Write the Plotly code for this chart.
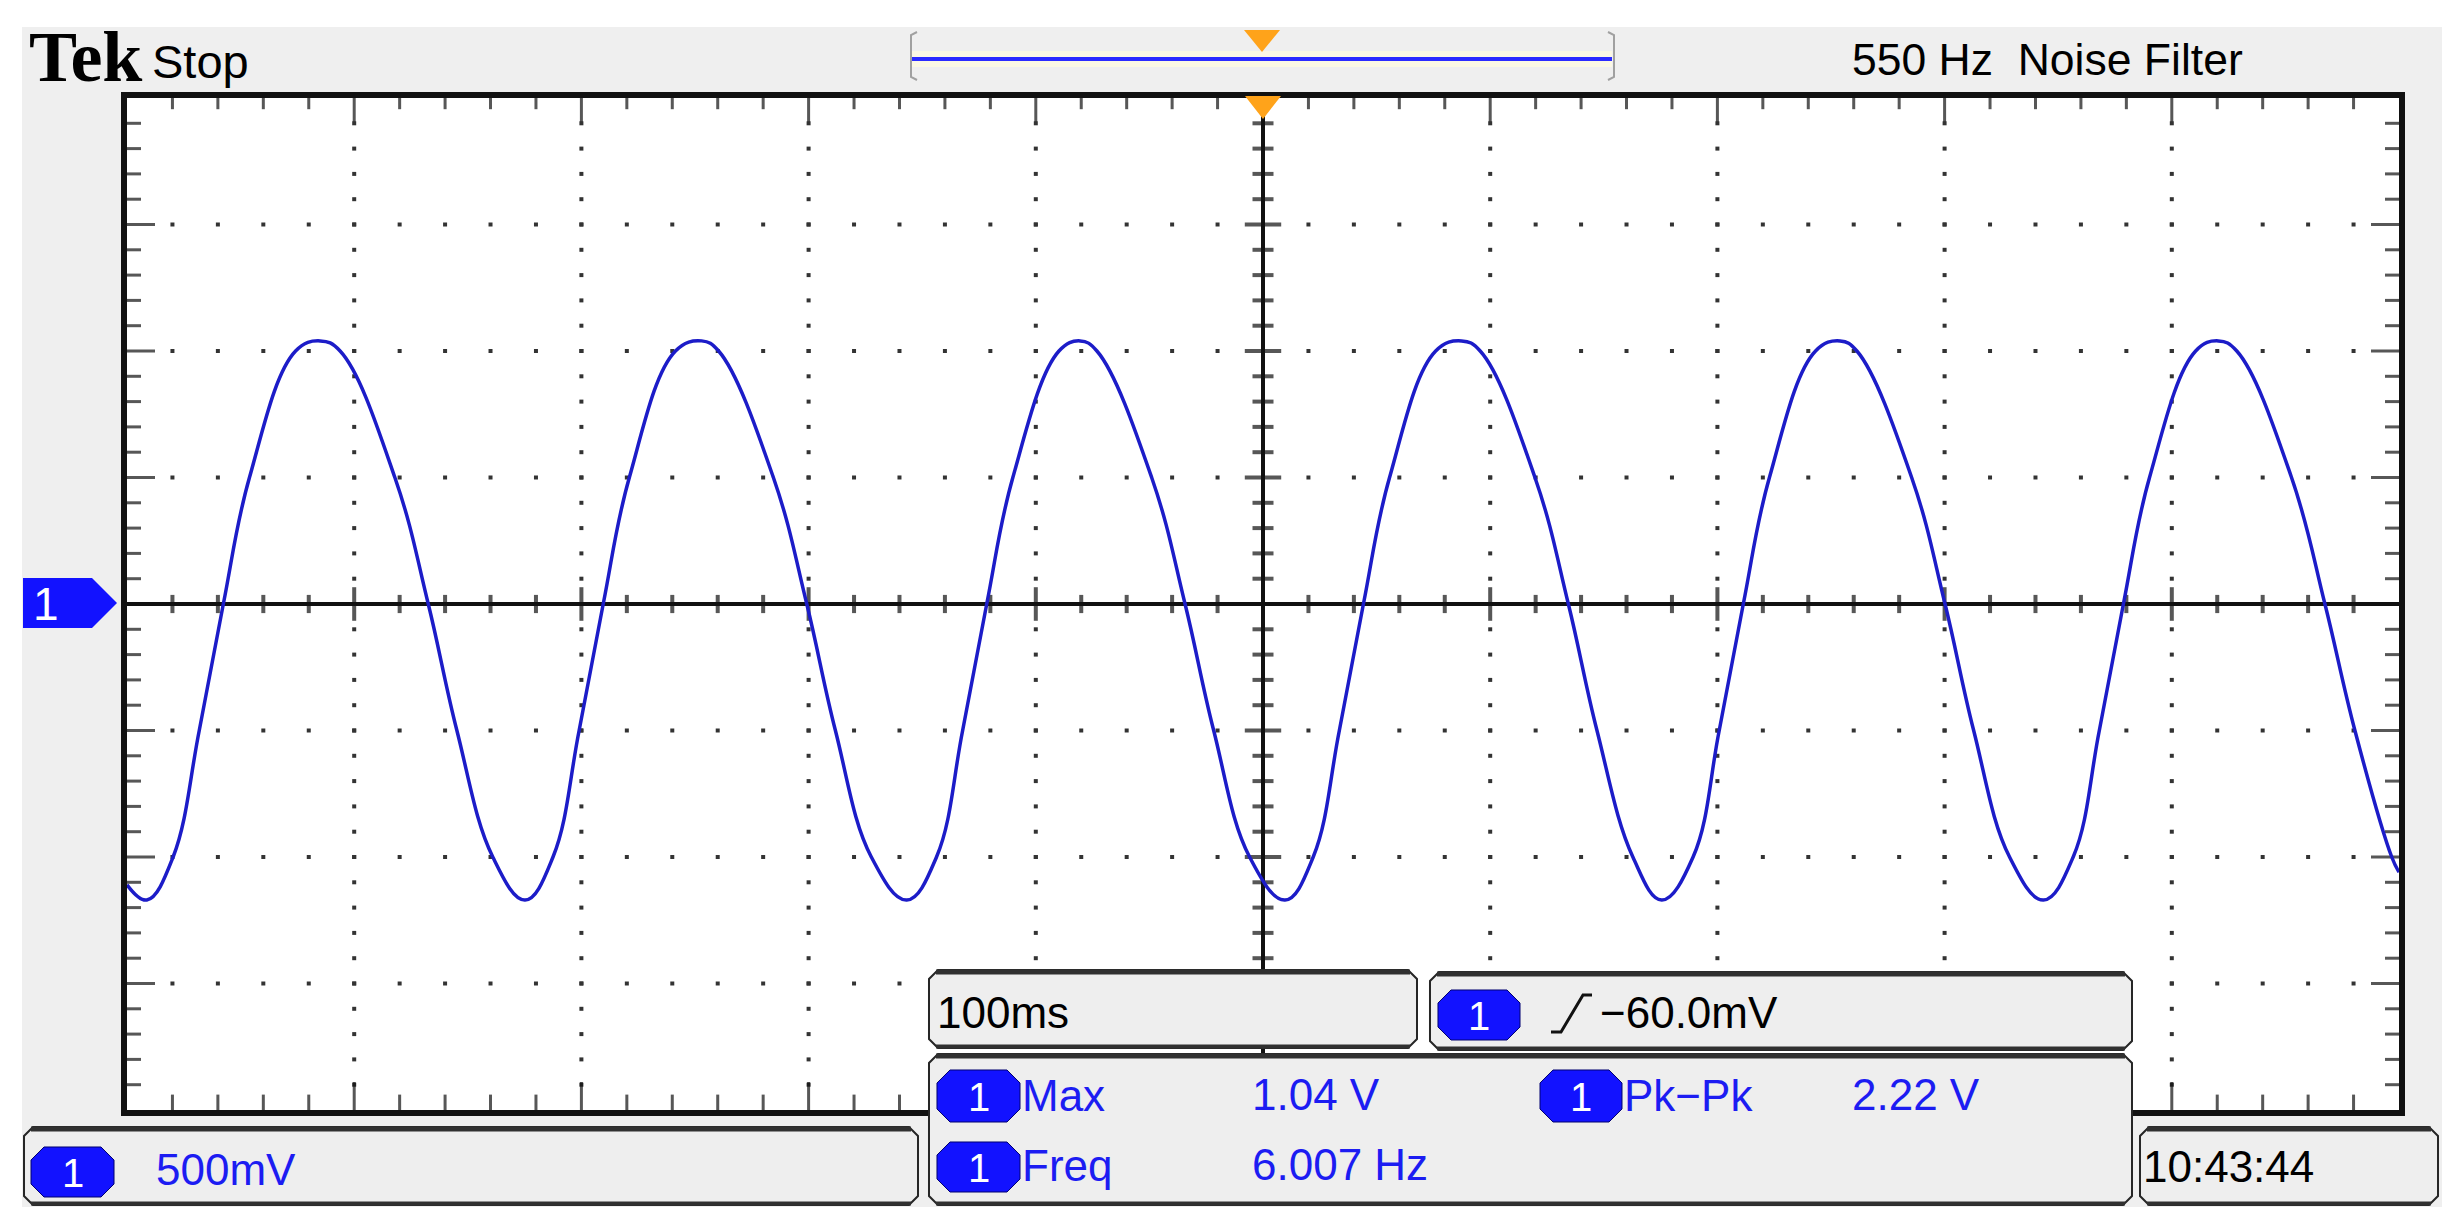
import numpy as np
import plotly.graph_objects as go

# ---------------- data read from the oscilloscope screen ----------------
# time relative to trigger (ms), 100 ms/div ; channel 1 voltage (V), 500 mV/div
time_ms = [-500.0, -491.3,
           -479.7, -468.2, -457.6, -446.1, -425.8, -415.0, -406.2, -382.1, -367.4, -354.8, -339.0, -324.8,
           -312.5, -301.0, -290.4, -278.9, -258.6, -247.1, -239.6, -215.5, -200.8, -188.2, -172.4, -156.8,
           -143.7, -132.2, -121.6, -110.1, -89.8, -80.5, -73.1, -49.0, -34.3, -21.7, -5.9, 9.7,
           22.1, 33.6, 44.2, 55.7, 76.0, 87.4, 95.6, 119.7, 134.4, 147.0, 162.8, 175.5,
           189.3, 200.8, 211.4, 222.9, 243.2, 254.0, 261.4, 285.5, 300.2, 312.8, 328.6, 343.5,
           356.6, 368.1, 378.7, 390.2, 410.5, 420.5, 428.6, 452.7, 467.4, 480.6, 496.8, 500.0]
volts = [-1.11, -1.17,
         -1.0, -0.5, 0.0, 0.5, 1.0, 1.04, 1.0, 0.5, 0.0, -0.5, -1.0, -1.17,
         -1.0, -0.5, 0.0, 0.5, 1.0, 1.04, 1.0, 0.5, 0.0, -0.5, -1.0, -1.17,
         -1.0, -0.5, 0.0, 0.5, 1.0, 1.04, 1.0, 0.5, 0.0, -0.5, -1.0, -1.17,
         -1.0, -0.5, 0.0, 0.5, 1.0, 1.04, 1.0, 0.5, 0.0, -0.5, -1.0, -1.17,
         -1.0, -0.5, 0.0, 0.5, 1.0, 1.04, 1.0, 0.5, 0.0, -0.5, -1.0, -1.17,
         -1.0, -0.5, 0.0, 0.5, 1.0, 1.04, 1.0, 0.5, 0.0, -0.5, -1.0, -1.06]

header_brand = "Tek"
header_state = "Stop"
header_filter = "550 Hz\u00a0\u00a0Noise Filter"
channel_label = "1"
timebase_label = "100ms"
trigger_label = "\u221260.0mV"
ch1_scale_label = "500mV"
clock_label = "10:43:44"
meas_names = ["Max", "Freq", "Pk\u2212Pk"]
meas_values = ["1.04 V", "6.007 Hz", "2.22 V"]

# ---------------- geometry (reference pixel coordinates) ----------------
OFF = 8                      # browser body margin
W, H = 2460 - 2 * OFF, 1230 - 2 * OFF
PL, PR, PT, PB = 127, 2399, 98, 1110
MS_DIV, V_DIV = 100.0, 0.5
XMIN, XMAX, YMIN, YMAX = -5 * MS_DIV, 5 * MS_DIV, -4 * V_DIV, 4 * V_DIV


def px(x):
    return (x - PL) / (PR - PL)


def py(y):
    return (PB - y) / (PB - PT)


def poly(points):
    return "M " + " L ".join(f"{px(a):.5f},{py(b):.5f}" for a, b in points) + " Z"


def chamfer(x0, y0, x1, y1, c):
    pts = [(x0 + c, y0), (x1 - c, y0), (x1, y0 + c), (x1, y1 - c),
           (x1 - c, y1), (x0 + c, y1), (x0, y1 - c), (x0, y0 + c)]
    return poly(pts)


SANS = "Liberation Sans, Arial, sans-serif"
SERIF = "Liberation Serif, Times New Roman, serif"
BLUE = "#1c1cf2"
BADGE = "#1212ff"
ORANGE = "#ffa31a"
PANEL = "#eeeeee"
FRAME = "#efefef"

shapes = []
annotations = []


def rect_px(x0, y0, x1, y1, fill, layer="below", line_w=0, line_c="rgba(0,0,0,0)"):
    shapes.append(dict(type="rect", xref="paper", yref="paper",
                       x0=px(x0), x1=px(x1), y0=py(y1), y1=py(y0),
                       fillcolor=fill, line=dict(width=line_w, color=line_c), layer=layer))


def line_px(x0, y0, x1, y1, color, width, layer="above"):
    shapes.append(dict(type="line", xref="paper", yref="paper",
                       x0=px(x0), x1=px(x1), y0=py(y0), y1=py(y1),
                       line=dict(color=color, width=width), layer=layer))


def path_px(path, fill, line_w=0, line_c="rgba(0,0,0,0)", layer="above"):
    shapes.append(dict(type="path", xref="paper", yref="paper", path=path,
                       fillcolor=fill, line=dict(width=line_w, color=line_c), layer=layer))


def txt(s, x, y, size=44, color="black", family=SANS, anchor="left", weight=None):
    font = dict(size=size, color=color, family=family)
    if weight:
        font["weight"] = weight
    annotations.append(dict(text=s, x=px(x), y=py(y), xref="paper", yref="paper",
                            xanchor=anchor, yanchor="middle", showarrow=False, font=font))


# background frame and white graticule area
rect_px(22, 27, 2442, 1207, FRAME)
shapes.append(dict(type="rect", xref="paper", yref="paper", x0=0, x1=1, y0=0, y1=1,
                   fillcolor="white", line=dict(width=0), layer="below"))

# centre axes (solid)
shapes.append(dict(type="line", xref="x", yref="y", x0=XMIN, x1=XMAX, y0=0, y1=0,
                   line=dict(color="#111111", width=4), layer="below"))
shapes.append(dict(type="line", xref="x", yref="y", x0=0, x1=0, y0=YMIN, y1=YMAX,
                   line=dict(color="#111111", width=4), layer="below"))

# header: record bar
rect_px(912, 51, 1612, 67, "#fbf8e4", layer="above")
line_px(912, 59, 1612, 59, "#2b2bff", 4)
path_px(f"M {px(917):.5f},{py(32):.5f} L {px(911):.5f},{py(35):.5f} L {px(911):.5f},{py(77):.5f} L {px(917):.5f},{py(80):.5f}",
        "rgba(0,0,0,0)", 2, "#a0a0a0")
path_px(f"M {px(1608):.5f},{py(32):.5f} L {px(1614):.5f},{py(35):.5f} L {px(1614):.5f},{py(77):.5f} L {px(1608):.5f},{py(80):.5f}",
        "rgba(0,0,0,0)", 2, "#a0a0a0")
path_px(poly([(1244, 30), (1280, 30), (1262, 52)]), ORANGE)

# graticule border
shapes.append(dict(type="rect", xref="paper", yref="paper", x0=px(124), x1=px(2402),
                   y0=py(1113), y1=py(95), line=dict(color="#111111", width=6),
                   fillcolor="rgba(0,0,0,0)", layer="above"))
# trigger position marker
path_px(poly([(1245, 96), (1281, 96), (1263, 119)]), ORANGE)

# channel 1 ground marker
path_px(poly([(23, 578), (92, 578), (117, 603), (92, 628), (23, 628)]), BADGE)
txt(channel_label, 46, 604, size=46, color="white", anchor="center")


# bottom read-out panels
def panel(x0, y0, x1, y1):
    path_px(chamfer(x0, y0, x1, y1, 9), PANEL, 2, "#262626")
    line_px(x0 + 7, y0 + 2, x1 - 7, y0 + 2, "#303030", 5)
    line_px(x0 + 7, y1 - 1.5, x1 - 7, y1 - 1.5, "#303030", 4)


def badge(x0, y0, x1, y1):
    path_px(chamfer(x0, y0, x1, y1, 13), BADGE, 1, "#000070")
    txt(channel_label, (x0 + x1) / 2, (y0 + y1) / 2 + 1, size=40, color="white", anchor="center")


panel(929, 970, 1417, 1048)
panel(1430, 972, 2132, 1050)
panel(929, 1054, 2132, 1205)
panel(24, 1127, 918, 1205)
panel(2140, 1127, 2438, 1205)

txt(timebase_label, 935, 1012)
badge(1438, 990, 1520, 1040)
shapes.append(dict(type="path", xref="paper", yref="paper",
                   path=f"M {px(1551):.5f},{py(1032):.5f} L {px(1561):.5f},{py(1032):.5f} "
                        f"L {px(1583):.5f},{py(995):.5f} L {px(1592):.5f},{py(995):.5f}",
                   line=dict(color="#111111", width=3), layer="above"))
txt(trigger_label, 1598, 1012)

badge(937, 1070, 1020, 1122)
badge(937, 1142, 1020, 1192)
badge(1540, 1070, 1622, 1122)
txt(meas_names[0], 1020, 1095, color=BLUE)
txt(meas_names[1], 1020, 1165, color=BLUE)
txt(meas_names[2], 1622, 1095, color=BLUE)
txt(meas_values[0], 1250, 1094, color=BLUE)
txt(meas_values[1], 1250, 1164, color=BLUE)
txt(meas_values[2], 1850, 1094, color=BLUE)

badge(31, 1147, 114, 1197)
txt(ch1_scale_label, 154, 1169, color=BLUE)
txt(clock_label, 2141, 1166)

# header texts
txt(header_brand, 27, 57, size=72, family=SERIF, weight="bold")
txt(header_state, 150, 61, size=47)
txt(header_filter, 1850, 60, size=44.5)

# ---------------- traces ----------------
minor_x = np.round(np.arange(-4.8, 4.81, 0.2), 3)
minor_y = np.round(np.arange(-3.8, 3.81, 0.2), 3)
major_x = [-4, -3, -2, -1, 1, 2, 3, 4]
major_y = [-3, -2, -1, 1, 2, 3]

gx, gy = [], []
for mx in major_x:
    for my in minor_y:
        if abs(my) > 1e-6:
            gx.append(mx * MS_DIV)
            gy.append(my * V_DIV)
for my in major_y:
    for mx in minor_x:
        if abs(mx) > 1e-6:
            gx.append(mx * MS_DIV)
            gy.append(my * V_DIV)

traces = [go.Scatter(x=gx, y=gy, mode="markers", hoverinfo="skip",
                     marker=dict(symbol="square", size=4, color="#333333", line=dict(width=0)))]


def ticks(xs, ys, symbol, sizes, width=3):
    return go.Scatter(x=xs, y=ys, mode="markers", hoverinfo="skip",
                      marker=dict(symbol=symbol, size=sizes, color="#111111",
                                  line=dict(width=width, color="#111111")))


def is_major(v):
    return abs(v - round(v)) < 1e-6


# ticks on centre axes
cx = [v for v in minor_x if abs(v) > 1e-6]
cy = [v for v in minor_y if abs(v) > 1e-6]
traces.append(ticks([v * MS_DIV for v in cx], [0] * len(cx), "line-ns",
                    [24 if is_major(v) else 13 for v in cx], 4))
traces.append(ticks([0] * len(cy), [v * V_DIV for v in cy], "line-ew",
                    [26 if is_major(v) else 15 for v in cy], 4))
# ticks on border (inner half visible)
traces.append(ticks([v * MS_DIV for v in minor_x], [YMAX] * len(minor_x), "line-ns",
                    [34 if is_major(v) else 16 for v in minor_x]))
traces.append(ticks([v * MS_DIV for v in minor_x], [YMIN] * len(minor_x), "line-ns",
                    [40 if is_major(v) else 22 for v in minor_x]))
traces.append(ticks([XMIN] * len(minor_y), [v * V_DIV for v in minor_y], "line-ew",
                    [40 if is_major(v) else 20 for v in minor_y]))
traces.append(ticks([XMAX] * len(minor_y), [v * V_DIV for v in minor_y], "line-ew",
                    [40 if is_major(v) else 20 for v in minor_y]))

# the waveform
traces.append(go.Scatter(x=time_ms, y=volts, mode="lines", name="CH1",
                         line=dict(color="#1c1cc8", width=3.5, shape="spline", smoothing=1.15)))

fig = go.Figure(traces)
fig.update_layout(
    width=W, height=H,
    margin=dict(l=PL - OFF, r=W - (PR - OFF), t=PT - OFF, b=H - (PB - OFF), pad=0),
    paper_bgcolor="white", plot_bgcolor="white",
    showlegend=False,
    xaxis=dict(range=[XMIN, XMAX], visible=False, fixedrange=True),
    yaxis=dict(range=[YMIN, YMAX], visible=False, fixedrange=True),
    shapes=shapes, annotations=annotations,
)
fig.write_html("out.html")
